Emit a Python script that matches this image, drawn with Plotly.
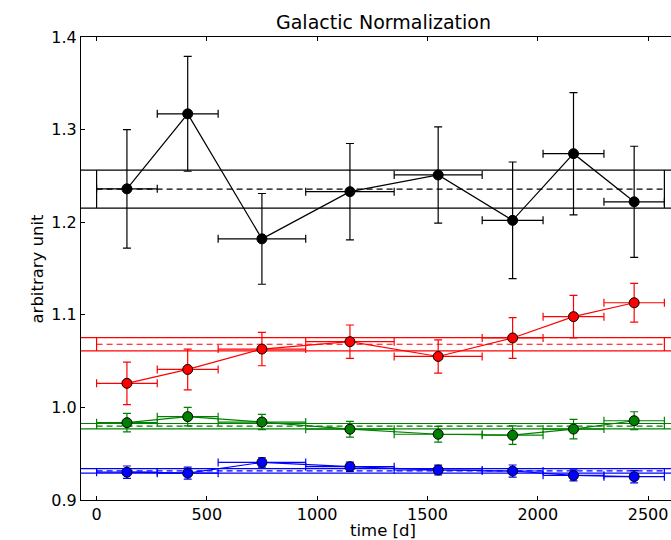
import plotly.graph_objects as go

# bin edges in days (shared by all series)
bin_edges = [0, 275, 551, 948, 1349, 1748, 2024, 2300, 2574]

black_y = [1.236, 1.317, 1.182, 1.233, 1.251, 1.202, 1.274, 1.222]
black_err = [0.064, 0.062, 0.049, 0.052, 0.052, 0.063, 0.066, 0.060]
black_mean, black_merr = 1.2357, 0.0205

red_y = [1.026, 1.041, 1.063, 1.071, 1.055, 1.075, 1.098, 1.113]
red_err = [0.023, 0.022, 0.018, 0.018, 0.018, 0.022, 0.023, 0.021]
red_mean, red_merr = 1.0682, 0.0072

green_y = [0.9835, 0.990, 0.9842, 0.9765, 0.971, 0.970, 0.9766, 0.9856]
green_err = [0.010, 0.010, 0.0083, 0.0085, 0.0085, 0.010, 0.0105, 0.0097]
green_mean, green_merr = 0.9797, 0.0029

blue_y = [0.930, 0.929, 0.9406, 0.936, 0.9324, 0.9313, 0.9266, 0.9252]
blue_err = [0.0067, 0.0065, 0.005, 0.005, 0.0052, 0.0065, 0.006, 0.0066]
blue_mean, blue_merr = 0.9315, 0.0024

y_ticks = [0.9, 1.0, 1.1, 1.2, 1.3, 1.4]
x_ticks = [0, 500, 1000, 1500, 2000, 2500]

x_mid = [(a + b) / 2 for a, b in zip(bin_edges[:-1], bin_edges[1:])]
x_half = [(b - a) / 2 for a, b in zip(bin_edges[:-1], bin_edges[1:])]

series = [
    (black_y, black_err, black_mean, black_merr, "#000000"),
    (red_y, red_err, red_mean, red_merr, "#ff0000"),
    (green_y, green_err, green_mean, green_merr, "#008000"),
    (blue_y, blue_err, blue_mean, blue_merr, "#0000ff"),
]

fig = go.Figure()
shapes = []
for ys, errs, m, me, col in series:
    # mean band lines (full width)
    for yy in (m - me, m + me):
        shapes.append(dict(type="line", xref="paper", yref="y", x0=0, x1=1,
                           y0=yy, y1=yy, line=dict(color=col, width=1.2), layer="below"))
    # dashed mean from first to last edge
    fig.add_trace(go.Scatter(x=[bin_edges[0], bin_edges[-1]], y=[m, m], mode="lines",
                             line=dict(color=col, width=1.2, dash="6px,4px"),
                             showlegend=False, hoverinfo="skip"))
    # vertical edges of the band
    for xe in (bin_edges[0], bin_edges[-1]):
        fig.add_trace(go.Scatter(x=[xe, xe], y=[m - me, m + me], mode="lines",
                                 line=dict(color=col, width=1.2),
                                 showlegend=False, hoverinfo="skip"))
    fig.add_trace(go.Scatter(
        x=x_mid, y=ys, mode="lines+markers",
        line=dict(color=col, width=1.2),
        marker=dict(size=10, color=col, line=dict(color="#000000", width=1)),
        error_x=dict(type="data", array=x_half, visible=True, color=col, thickness=1.2, width=4),
        error_y=dict(type="data", array=errs, visible=True, color=col, thickness=1.2, width=4),
        showlegend=False))

fig.update_layout(
    width=671, height=540,
    margin=dict(l=81, r=0, t=37, b=40),
    plot_bgcolor="white", paper_bgcolor="white",
    font=dict(family="DejaVu Sans", size=16, color="#000000"),
    shapes=shapes,
    annotations=[
        dict(text="Galactic Normalization", xref="paper", yref="paper", x=(383 - 81) / 590,
             y=1, yshift=15, showarrow=False, font=dict(size=19), xanchor="center", yanchor="middle"),
        dict(text="time [d]", xref="paper", yref="paper", x=(383 - 81) / 590,
             y=0, yshift=-30, showarrow=False, font=dict(size=16.5), xanchor="center", yanchor="middle"),
        dict(text="arbitrary unit", xref="paper", yref="paper", x=0, xshift=-44,
             y=0.5, showarrow=False, textangle=-90, font=dict(size=16.5),
             xanchor="center", yanchor="middle"),
    ],
)
fig.update_xaxes(range=[-70.7, 2604], tickvals=x_ticks, ticktext=[str(v) for v in x_ticks],
                 ticks="inside", ticklen=4, tickcolor="#000", showline=True, linecolor="#000",
                 linewidth=1.2, mirror="ticks", showgrid=False, zeroline=False)
fig.update_yaxes(range=[0.9, 1.4], tickvals=y_ticks, ticktext=[f"{v:.1f}" for v in y_ticks],
                 ticks="inside", ticklen=4, tickcolor="#000", showline=True, linecolor="#000",
                 linewidth=1.2, mirror=False, showgrid=False, zeroline=False)

fig.write_html("out.html")
